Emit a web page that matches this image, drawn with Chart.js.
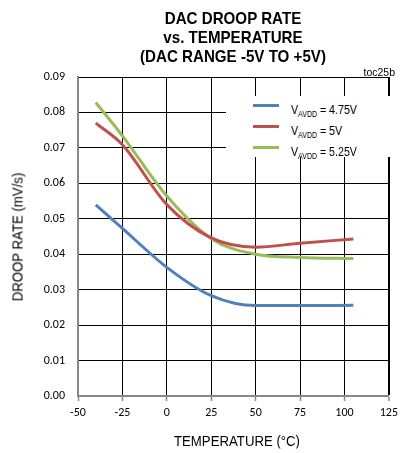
<!DOCTYPE html>
<html>
<head>
<meta charset="utf-8">
<script src="https://cdn.jsdelivr.net/npm/chart.js@4/dist/chart.umd.min.js"></script>
<style>
  body { margin: 0; background: #fff; }
  #wrap { position: relative; width: 403px; height: 453px; overflow: hidden; }
  .lbl { position: absolute; font-family: "Liberation Sans", Arial, sans-serif; color: #000; white-space: nowrap; }
  #title { left: 233px; top: 37px; transform: translate(-50%, -50%) scaleX(0.89); font-size: 17px; font-weight: bold; line-height: 19px; text-align: center; }
  #xtitle { left: 237px; top: 440px; transform: translate(-50%, -50%) scaleX(0.88); font-size: 15px; }
  #ytitle { left: 17px; top: 237px; transform: translate(-50%, -50%) rotate(-90deg) scaleX(0.88); font-size: 15px; }
  #toc { right: 8px; top: 66px; font-size: 10.5px; }
  #legend { position: absolute; left: 226px; top: 96px; width: 167px; height: 61px; background: #fff; }
  .swatch { position: absolute; left: 27px; width: 26px; height: 3px; }
  .entry { left: 65px; font-size: 13px; line-height: 16px; transform-origin: left center; transform: scaleX(0.82); }
  .entry sub { font-size: 8.5px; vertical-align: -3px; line-height: 0; }
</style>
</head>
<body>
<div id="wrap">
  <canvas id="droopChart" width="403" height="453"></canvas>
  <div id="title" class="lbl">DAC DROOP RATE<br>vs. TEMPERATURE<br>(DAC RANGE -5V TO +5V)</div>
  <div id="toc" class="lbl">toc25b</div>
  <div id="xtitle" class="lbl">TEMPERATURE (°C)</div>
  <div id="ytitle" class="lbl">DROOP RATE (mV/s)</div>
  <div id="legend"></div>
</div>
<script>
// temperature points (°C)
const temperatures = [-40, -25, 0, 25, 50, 75, 105]
// droop rate (mV/s) per supply
const droop475 = [0.0539, 0.0473, 0.0363, 0.0283, 0.0255, 0.0255, 0.0256]
const droop500 = [0.0770, 0.0709, 0.0540, 0.0446, 0.0420, 0.0431, 0.0443]
const droop525 = [0.0828, 0.0734, 0.0564, 0.0444, 0.0400, 0.0391, 0.0388]
const seriesNames = ["4.75V", "5V", "5.25V"]
const seriesColors = ["#4F81BD", "#C0504D", "#9BBB59"]
const xTicks = [-50, -25, 0, 25, 50, 75, 100, 125]
const yTicks = [0, 0.01, 0.02, 0.03, 0.04, 0.05, 0.06, 0.07, 0.08, 0.09]

const tickFont = "Carlito, Lato, 'Liberation Sans', sans-serif"

function toPoints(values) {
  return temperatures.map((t, i) => ({ x: t, y: values[i] }))
}

// legend with subscripts
const legendTag = document.getElementById("legend")
seriesNames.forEach((name, i) => {
  const swatch = document.createElement("div")
  swatch.setAttribute("class", "swatch")
  swatch.style.top = (8 + i * 21) + "px"
  swatch.style.background = seriesColors[i]
  legendTag.appendChild(swatch)
  const entry = document.createElement("div")
  entry.setAttribute("class", "lbl entry")
  entry.style.top = (6 + i * 21) + "px"
  entry.innerHTML = "V<sub>AVDD</sub> = " + name
  legendTag.appendChild(entry)
})

const ctx = document.getElementById("droopChart").getContext('2d')
const myChart = new Chart(ctx, {
  type: 'line',
  data: {
    datasets: [droop475, droop500, droop525].map((values, i) => ({
      label: seriesNames[i],
      data: toPoints(values),
      borderColor: seriesColors[i],
      borderWidth: 3,
      pointRadius: 0,
      cubicInterpolationMode: 'monotone',
      fill: false,
    }))
  },
  options: {
    responsive: false,
    animation: false,
    layout: {
      autoPadding: false,
      padding: { left: 0, right: 9, top: 77, bottom: 0 }
    },
    plugins: {
      legend: { display: false },
      tooltip: { enabled: false },
      title: { display: false }
    },
    scales: {
      x: {
        type: 'linear',
        min: -50,
        max: 125,
        afterBuildTicks: (scale) => { scale.ticks = xTicks.map(v => ({ value: v })) },
        afterFit: (scale) => { scale.height = 57 },
        border: { display: true, color: '#888', width: 2 },
        grid: {
          color: (c) => c.index === 0 ? 'rgba(0,0,0,0)' : '#000',
          lineWidth: (c) => c.index === xTicks.length - 1 ? 2 : 1,
          tickColor: '#888',
          tickWidth: 1.5,
          tickLength: 5
        },
        ticks: {
          color: '#000',
          padding: 5,
          maxRotation: 0,
          font: { family: tickFont, size: 12 }
        }
      },
      y: {
        min: 0,
        max: 0.09,
        afterBuildTicks: (scale) => { scale.ticks = yTicks.map(v => ({ value: v })) },
        afterFit: (scale) => { scale.width = 78 },
        border: { display: true, color: '#888', width: 2 },
        grid: {
          color: (c) => c.index === 0 ? 'rgba(0,0,0,0)' : '#000',
          lineWidth: 1,
          drawTicks: false
        },
        ticks: {
          color: '#000',
          padding: 13,
          font: { family: tickFont, size: 12 },
          callback: (v) => Number(v).toFixed(2)
        }
      }
    }
  }
})
</script>
</body>
</html>
